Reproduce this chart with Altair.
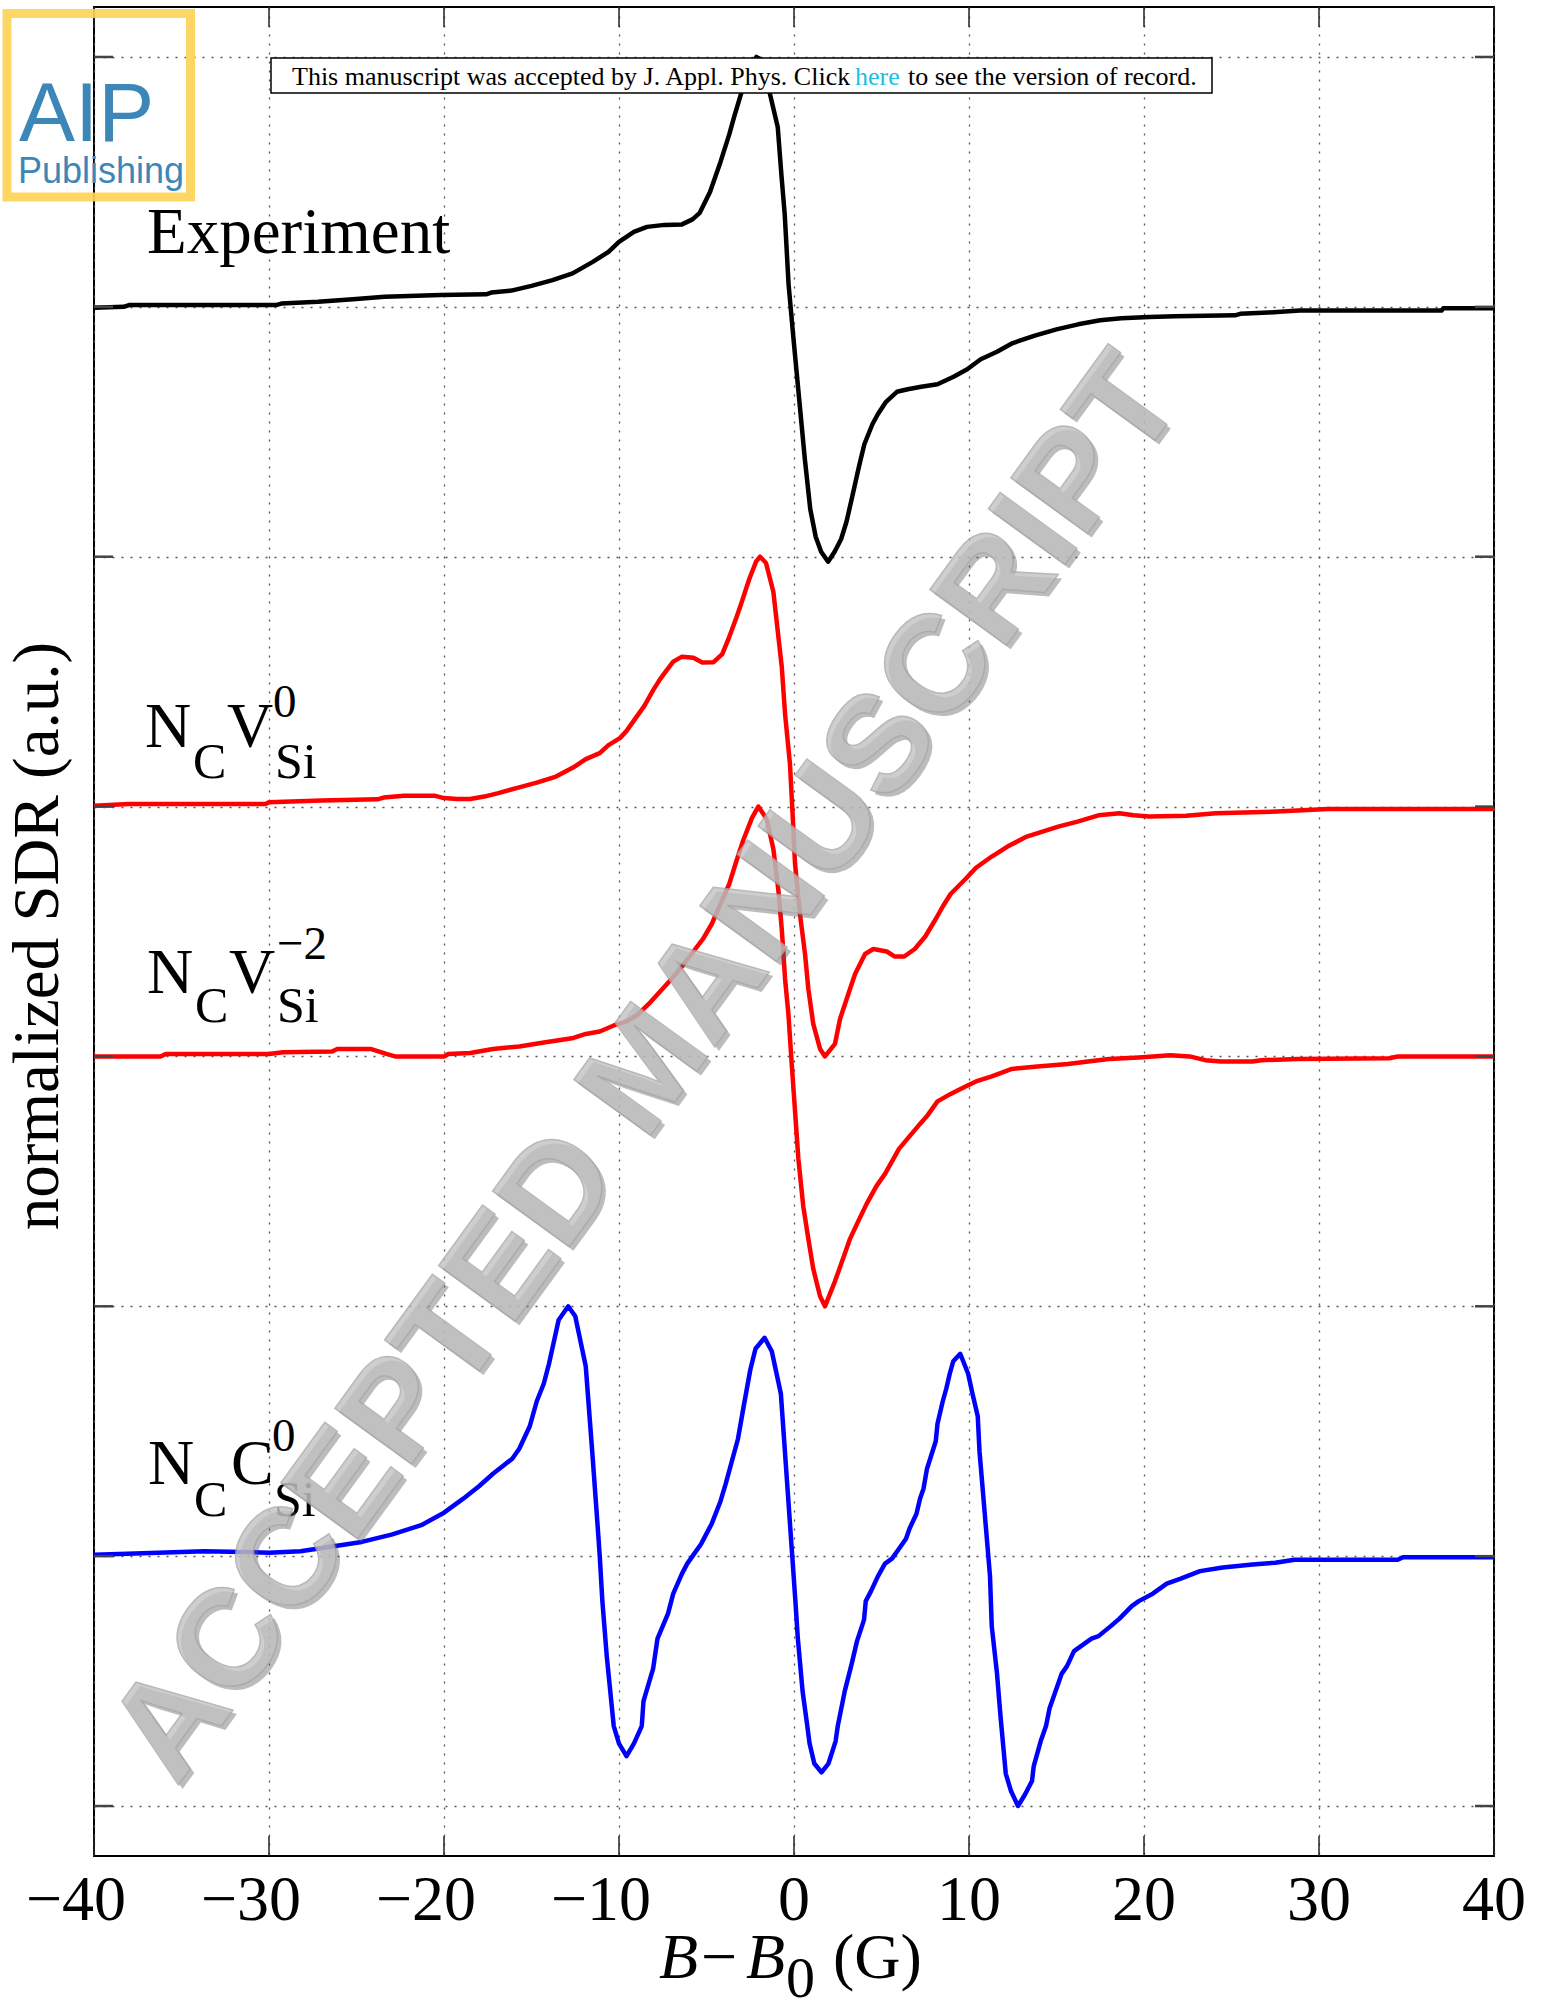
import altair as alt
import pandas as pd

# ---------------- data ----------------
x_ticks = [-40, -30, -20, -10, 0, 10, 20, 30, 40]
y_ticks = [0, 1, 2, 3, 4, 5, 6, 7]

series_names = ["Experiment", "NCVSi0", "NCVSi-2", "NCCSi0"]
series_colors = ["#000000", "#ff0000", "#ff0000", "#0000ff"]

exp_x = [-40, -38.3, -38.0, -29.6, -29.3, -27.2, -25.2, -23.4, -20.2, -17.6, -17.3, -16.15, -15.0,
         -13.8, -12.65, -11.5, -10.6, -10.0, -9.15, -8.4, -7.4, -6.4, -5.8, -5.4, -4.8, -4.2, -3.7,
         -3.4, -2.95, -2.5, -2.15, -1.75, -1.4, -0.93, -0.71, -0.53, -0.31, 0.0, 0.31, 0.62, 0.93,
         1.24, 1.55, 1.95, 2.32, 2.69, 3.0, 3.31, 3.71, 4.02, 4.48, 4.79, 5.26, 5.88, 6.5, 7.27, 8.2,
         9.12, 9.9, 10.67, 11.6, 12.5, 13.76, 15.0, 16.24, 17.5, 18.7, 20.3, 21.8, 25.2, 25.5, 27.1,
         28.9, 37.0, 37.1, 40]
exp_y = [5.996, 6.0, 6.007, 6.007, 6.013, 6.02, 6.03, 6.04, 6.047, 6.05, 6.057, 6.065, 6.084,
         6.107, 6.134, 6.18, 6.22, 6.26, 6.30, 6.32, 6.328, 6.33, 6.35, 6.375, 6.46, 6.58, 6.69,
         6.765, 6.87, 6.955, 7.0, 6.985, 6.86, 6.72, 6.52, 6.37, 6.09, 5.85, 5.62, 5.39, 5.19,
         5.08, 5.02, 4.98, 5.02, 5.07, 5.14, 5.235, 5.36, 5.45, 5.53, 5.57, 5.62, 5.66, 5.67, 5.68, 5.69,
         5.72, 5.75, 5.79, 5.82, 5.855, 5.885, 5.91, 5.93, 5.946, 5.954, 5.959, 5.962, 5.966, 5.972, 5.977,
         5.985, 5.985, 5.994, 5.994]

v0_x = [-40, -38.0, -30.2, -30.0, -27.0, -23.8, -23.45, -22.3, -20.5, -20.0, -19.25, -18.5, -17.7,
        -16.95, -15.7, -14.7, -13.6, -12.6, -11.9, -11.1, -10.6, -9.95, -9.6, -9.06, -8.55, -8.04,
        -7.65, -7.27, -6.9, -6.4, -5.75, -5.24, -4.6, -4.1, -3.75, -3.3, -3.0, -2.57, -2.17, -1.94,
        -1.6, -1.18, -0.7, -0.51, -0.23, -0.08, 0.06, 0.34, 0.63, 0.82, 1.1, 1.49, 1.77, 2.34, 2.63,
        3.2, 3.49, 4.06, 4.53, 5.3, 5.74, 6.3, 6.9, 7.5, 8.1, 8.5, 8.95, 9.8, 10.4, 11.3, 12.2, 13.3,
        14.2, 15.1, 16.2, 17.4, 18.6, 19.4, 20.3, 22.4, 24.1, 27.6, 30.5, 40]
v0_y = [4.003, 4.01, 4.01, 4.017, 4.024, 4.029, 4.036, 4.043, 4.043, 4.034, 4.03, 4.03, 4.04,
        4.053, 4.077, 4.096, 4.12, 4.157, 4.19, 4.214, 4.246, 4.274, 4.30, 4.353, 4.403, 4.467,
        4.51, 4.546, 4.58, 4.60, 4.596, 4.577, 4.578, 4.61, 4.67, 4.755, 4.816, 4.908, 4.98, 5.0,
        4.975, 4.86, 4.56, 4.37, 4.17, 3.97, 3.77, 3.57, 3.41, 3.27, 3.13, 3.03, 3.0, 3.05, 3.15,
        3.27, 3.33, 3.41, 3.43, 3.42, 3.40, 3.40, 3.43, 3.48, 3.55, 3.60, 3.65, 3.71, 3.755, 3.80, 3.84, 3.88,
        3.90, 3.92, 3.94, 3.965, 3.973, 3.965, 3.96, 3.963, 3.973, 3.98, 3.99, 3.99]

v2_x = [-40, -36.2, -35.9, -30.0, -29.2, -26.4, -26.1, -24.2, -23.3, -22.8, -20.0, -19.75, -18.5,
        -17.2, -15.7, -14.2, -12.6, -11.9, -11.1, -10.3, -9.57, -8.93, -8.3, -7.65, -7.0, -6.4, -5.75,
        -5.2, -4.7, -4.2, -3.7, -3.3, -2.9, -2.4, -2.04, -1.56, -1.18, -0.9, -0.7, -0.51, -0.32, -0.13,
        0.06, 0.25, 0.53, 0.82, 1.1, 1.49, 1.77, 2.34, 2.8, 3.2, 3.6, 4.15, 4.7, 5.2, 5.6, 6.0, 6.6,
        7.2, 7.64, 8.2, 8.95, 9.8, 10.4, 11.3, 12.45, 13.9, 15.65, 16.8, 18.0, 19.7, 21.5, 22.6, 23.5,
        24.4, 26.2, 26.7, 28.8, 34.0, 34.5, 40]
v2_y = [3.0, 3.0, 3.01, 3.01, 3.017, 3.02, 3.03, 3.03, 3.01, 3.0, 3.0, 3.01, 3.014,
        3.03, 3.04, 3.057, 3.074, 3.09, 3.10, 3.124, 3.14, 3.167, 3.21, 3.26, 3.31, 3.36, 3.42,
        3.47, 3.53, 3.61, 3.69, 3.78, 3.865, 3.955, 4.0, 3.95, 3.83, 3.67, 3.51, 3.31, 3.17, 2.97,
        2.78, 2.59, 2.40, 2.27, 2.15, 2.04, 2.0, 2.10, 2.19, 2.27, 2.33, 2.41, 2.48, 2.53, 2.58, 2.63, 2.68,
        2.73, 2.765, 2.82, 2.85, 2.88, 2.90, 2.92, 2.95, 2.96, 2.97, 2.98, 2.99, 2.996, 3.005, 3.0, 2.985,
        2.98, 2.98, 2.985, 2.99, 2.993, 3.0, 3.0]

c0_x = [-40, -38.1, -33.7, -30.0, -28.2, -26.3, -24.7, -23.0, -21.3, -20.0, -18.9, -18.0, -17.2,
        -16.1, -15.7, -15.1, -14.7, -14.3, -14.0, -13.45, -12.9, -12.5, -11.9, -11.5, -11.2, -11.1,
        -10.95, -10.7, -10.3, -10.0, -9.57, -9.15, -8.7, -8.6, -8.05, -7.8, -7.2, -6.9, -6.4, -6.1,
        -5.3, -4.7, -4.2, -3.9, -3.2, -2.9, -2.5, -2.2, -1.68, -1.27, -0.75, -0.45, -0.25, -0.1,
        0.08, 0.22, 0.49, 0.76, 0.89, 1.16, 1.57, 1.97, 2.38, 2.5, 2.9, 3.3, 3.6, 4.0, 4.1, 4.4, 4.8,
        5.2, 5.6, 6.0, 6.4, 6.6, 7.0, 7.2, 7.4, 7.6, 8.1, 8.2, 8.5, 8.7, 8.9, 9.1, 9.5, 9.95, 10.2,
        10.5, 10.6, 10.9, 11.2, 11.3, 11.6, 11.8, 12.1, 12.4, 12.8, 13.2, 13.6, 13.7, 14.1, 14.4, 14.6,
        14.9, 15.3, 15.6, 16.0, 16.4, 17.0, 17.4, 18.1, 18.6, 19.3, 19.7, 20.5, 21.3, 22.1, 23.2, 24.5,
        26.2, 27.5, 28.6, 34.5, 34.8, 40]
c0_y = [1.006, 1.01, 1.02, 1.014, 1.02, 1.04, 1.057, 1.086, 1.124, 1.174, 1.23, 1.28, 1.33,
        1.39, 1.43, 1.52, 1.62, 1.69, 1.77, 1.945, 2.0, 1.96, 1.76, 1.39, 1.10, 1.0,
        0.82, 0.60, 0.32, 0.25, 0.20, 0.25, 0.32, 0.42, 0.55, 0.67, 0.77, 0.85, 0.93, 0.97,
        1.05, 1.13, 1.22, 1.29, 1.47, 1.59, 1.745, 1.83, 1.874, 1.82, 1.65, 1.35, 1.15, 1.0,
        0.82, 0.67, 0.46, 0.32, 0.25, 0.17, 0.135, 0.17, 0.26, 0.32, 0.46, 0.57, 0.66, 0.745, 0.82, 0.86, 0.92,
        0.97, 0.99, 1.03, 1.07, 1.11, 1.17, 1.23, 1.27, 1.35, 1.46, 1.53, 1.62, 1.67, 1.73, 1.78, 1.81, 1.73, 1.65,
        1.56, 1.42, 1.17, 0.92, 0.72, 0.53, 0.36, 0.13, 0.06, 0.0, 0.046, 0.10, 0.16, 0.26, 0.32, 0.39,
        0.45, 0.53, 0.56, 0.62, 0.64, 0.67, 0.68, 0.72, 0.75, 0.80, 0.82, 0.85, 0.89, 0.91, 0.94, 0.955,
        0.967, 0.974, 0.986, 0.986, 0.996, 0.996]

label_experiment = "Experiment"
header_parts = ["This manuscript was accepted by J. Appl. Phys. Click", "here", "to see the version of record."]
y_title = "normalized SDR (a.u.)"
watermark = "ACCEPTED MANUSCRIPT"

# ---------------- build ----------------
W, H = 1400, 1849
SERIF = "Liberation Serif"
SANS = "Liberation Sans"

rows = []
for name, xs, ys in [("Experiment", exp_x, exp_y), ("NCVSi0", v0_x, v0_y),
                     ("NCVSi-2", v2_x, v2_y), ("NCCSi0", c0_x, c0_y)]:
    for i, (a, b) in enumerate(zip(xs, ys)):
        rows.append({"series": name, "B": a, "SDR": b, "i": i})
df = pd.DataFrame(rows)

xscale = alt.Scale(domain=[-40, 40], nice=False, zero=False)
yscale = alt.Scale(domain=[-0.2, 7.2], nice=False, zero=False)

x_axis = alt.Axis(values=x_ticks, title=None, grid=True, gridDash=[2, 7], gridColor="#555",
                  gridWidth=1.3, domain=False, ticks=False, tickSize=0, labels=False)
y_axis = alt.Axis(values=y_ticks, title=None, grid=True, gridDash=[2, 7], gridColor="#555",
                  gridWidth=1.3, domain=False, ticks=False, tickSize=0, labels=False)

curves = alt.Chart(df).mark_line(strokeWidth=4.5, strokeJoin="round").encode(
    x=alt.X("B:Q", scale=xscale, axis=x_axis),
    y=alt.Y("SDR:Q", scale=yscale, axis=y_axis),
    color=alt.Color("series:N", scale=alt.Scale(domain=series_names, range=series_colors), legend=None),
    order="i:Q",
)

xt = pd.DataFrame({"B": x_ticks})
yt = pd.DataFrame({"SDR": y_ticks})
tick_bottom = alt.Chart(xt).mark_rule(color="#222", strokeWidth=1.5).encode(
    x=alt.X("B:Q", scale=xscale, axis=x_axis), y=alt.value(H), y2=alt.value(H - 20))
tick_top = alt.Chart(xt).mark_rule(color="#222", strokeWidth=1.5).encode(
    x=alt.X("B:Q", scale=xscale, axis=x_axis), y=alt.value(0), y2=alt.value(20))
tick_left = alt.Chart(yt).mark_rule(color="#444", strokeWidth=2.5).encode(
    y=alt.Y("SDR:Q", scale=yscale, axis=y_axis), x=alt.value(0), x2=alt.value(19))
tick_right = alt.Chart(yt).mark_rule(color="#444", strokeWidth=2.5).encode(
    y=alt.Y("SDR:Q", scale=yscale, axis=y_axis), x=alt.value(W), x2=alt.value(W - 19))

# tick labels (MATLAB style: digits centred on the tick, minus sign hanging left)
xt_lab = pd.DataFrame({"B": x_ticks,
                       "lab": [("\u2212" + str(abs(v))) if v < 0 else str(v) for v in x_ticks]})
ticklab_neg = alt.Chart(xt_lab).transform_filter("datum.B < 0").mark_text(
    font=SERIF, fontSize=64, align="right", baseline="alphabetic", dx=32, color="black").encode(
    x=alt.X("B:Q", scale=xscale, axis=x_axis), y=alt.value(1913), text="lab:N")
ticklab_pos = alt.Chart(xt_lab).transform_filter("datum.B >= 0").mark_text(
    font=SERIF, fontSize=64, align="center", baseline="alphabetic", color="black").encode(
    x=alt.X("B:Q", scale=xscale, axis=x_axis), y=alt.value(1913), text="lab:N")

one = pd.DataFrame({"k": [0]})


def txt(text, x, y, size, font=SERIF, style="normal", color="black", align="left",
        baseline="alphabetic", angle=0, opacity=1.0, weight="normal", stroke=None, sw=0):
    kw = dict(text=text, font=font, fontSize=size, fontStyle=style, color=color, align=align,
              baseline=baseline, opacity=opacity, fontWeight=weight)
    if angle:
        kw["angle"] = angle
    if stroke:
        kw["stroke"] = stroke
        kw["strokeWidth"] = sw
    return alt.Chart(one).mark_text(**kw).encode(x=alt.value(x), y=alt.value(y))


# header box
header_box = alt.Chart(one).mark_rect(fill="white", stroke="black", strokeWidth=1.5).encode(
    x=alt.value(177), x2=alt.value(1118), y=alt.value(51), y2=alt.value(86))
header = [
    txt(header_parts[0], 198, 78, 26),
    txt(header_parts[1], 761, 78, 26, color="#1cbfe0"),
    txt(header_parts[2], 814, 78, 26),
]

# curve labels: (text, x, y, size)
label_pieces = [
    (label_experiment, 53, 246, 65),
    ("N", 51, 740, 64), ("C", 99, 771, 50), ("V", 133, 740, 64), ("0", 179, 710, 47), ("Si", 181, 771, 50),
    ("N", 53, 986, 64), ("C", 101, 1015, 50), ("V", 135, 986, 64), ("\u22122", 183, 952, 47), ("Si", 183, 1015, 50),
    ("N", 54, 1477, 64), ("C", 100, 1509, 50), ("C", 137, 1477, 64), ("0", 178, 1444, 47), ("Si", 180, 1509, 50),
]
labels = [txt(t, x, y, s) for (t, x, y, s) in label_pieces]

# axis titles
ytitle = txt(y_title, -36, 929, 65, align="center", angle=270)
xtitle = [
    txt("B", 565, 1971, 64, style="italic"),
    txt("\u2212", 607, 1971, 64),
    txt("B", 652, 1971, 64, style="italic"),
    txt("0", 692, 1990, 58),
    txt("(G)", 739, 1971, 64),
]

# watermark (embossed look: dark offset shadow + light face)
wm_shadow = txt(watermark, 558, 1066, 138, font=SANS, color="#5a5a5a", align="center",
                baseline="middle", angle=306, opacity=0.4, weight="bold")
wm_main = txt(watermark, 554, 1062, 138, font=SANS, color="#c2c2c2", align="center",
              baseline="middle", angle=306, opacity=0.8, weight="bold", stroke="#a8a8a8", sw=1.5)

# logo
logo_frame = alt.Chart(one).mark_rect(fill="white", fillOpacity=0, stroke="#fdd152",
                                      strokeWidth=9, strokeOpacity=0.9).encode(
    x=alt.value(-87), x2=alt.value(96.5), y=alt.value(6.5), y2=alt.value(190))
logo_text = [
    txt("AIP", -75, 134, 84, font=SANS, color="#3d86b8"),
    txt("Publishing", -76, 176, 36, font=SANS, color="#3d86b8"),
]

layers = ([curves, tick_bottom, tick_top, tick_left, tick_right, ticklab_neg, ticklab_pos, header_box]
          + header + labels + [ytitle] + xtitle + [wm_shadow, wm_main, logo_frame] + logo_text)

chart = alt.layer(*layers).properties(
    width=W, height=H,
    autosize=alt.AutoSizeParams(type="none"),
    padding={"left": 94, "top": 7, "right": 52, "bottom": 155},
    background="white",
).configure_view(stroke="black", strokeWidth=2)

chart.save("out.html", embed_options={"renderer": "svg", "actions": False})
